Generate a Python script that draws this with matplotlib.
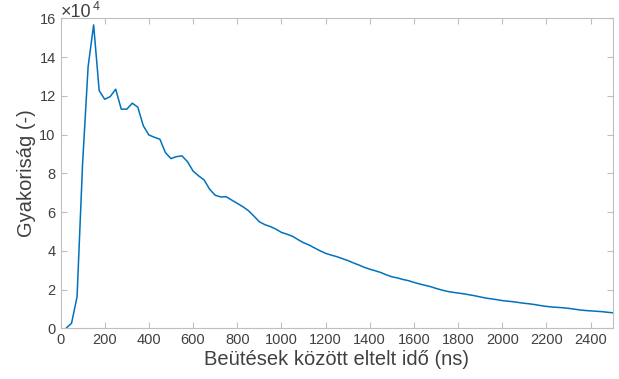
import matplotlib
matplotlib.use("Agg")
import matplotlib.pyplot as plt

x_ns = [25, 50, 75, 100, 125, 150, 175, 200, 225, 250, 275, 300, 325, 350, 375, 400,
        425, 450, 475, 500, 525, 550, 575, 600, 625, 650, 675, 700, 725, 750, 775, 800,
        825, 850, 875, 900, 925, 950, 975, 1000, 1025, 1050, 1075, 1100, 1125, 1150,
        1175, 1200, 1225, 1250, 1275, 1300, 1325, 1350, 1375, 1400, 1425, 1450, 1475,
        1500, 1525, 1550, 1575, 1600, 1625, 1650, 1675, 1700, 1725, 1750, 1775, 1800,
        1825, 1850, 1875, 1900, 1925, 1950, 1975, 2000, 2025, 2050, 2075, 2100, 2125,
        2150, 2175, 2200, 2225, 2250, 2275, 2300, 2325, 2350, 2375, 2400, 2425, 2450,
        2475, 2500]
freq_e4 = [0.0, 0.26, 1.63, 8.5, 13.5, 15.66, 12.27, 11.82, 11.96, 12.34, 11.31, 11.31,
           11.62, 11.41, 10.45, 9.98, 9.86, 9.76, 9.07, 8.76, 8.86, 8.9, 8.6, 8.12, 7.87,
           7.66, 7.18, 6.87, 6.78, 6.79, 6.62, 6.45, 6.28, 6.08, 5.8, 5.5, 5.35, 5.25,
           5.12, 4.95, 4.86, 4.75, 4.58, 4.42, 4.3, 4.15, 4.0, 3.87, 3.78, 3.70, 3.6, 3.5,
           3.38, 3.27, 3.15, 3.05, 2.97, 2.88, 2.76, 2.66, 2.6, 2.52, 2.46, 2.37, 2.29,
           2.22, 2.15, 2.06, 1.98, 1.91, 1.86, 1.82, 1.78, 1.73, 1.68, 1.62, 1.56, 1.52,
           1.48, 1.43, 1.40, 1.37, 1.33, 1.29, 1.26, 1.22, 1.17, 1.13, 1.10, 1.08, 1.06,
           1.03, 0.99, 0.95, 0.92, 0.90, 0.88, 0.86, 0.83, 0.80]

x_ticks = list(range(0, 2401, 200))
y_ticks = list(range(0, 17, 2))

plt.rcParams['font.family'] = ['Liberation Sans', 'DejaVu Sans']

W, H = 619, 379
fig = plt.figure(figsize=(W / 100, H / 100), dpi=100)
ax = fig.add_axes([60.5 / W, 1 - 328.3 / H, (612.7 - 60.5) / W, (328.3 - 18.3) / H])

ax.plot(x_ns, freq_e4, color=(0, 0.447, 0.741), linewidth=1.1)

ax.set_xlim(0, 2500)
ax.set_ylim(0, 16)
ax.set_xticks(x_ticks)
ax.set_yticks(y_ticks)
ax.set_xticklabels([str(t) for t in x_ticks])
ax.set_yticklabels([str(t) for t in y_ticks])

tick_col = (0.25, 0.25, 0.25)
spine_col = (0.75, 0.75, 0.75)
for s in ax.spines.values():
    s.set_color(spine_col)
    s.set_linewidth(0.8)
ax.tick_params(direction='in', length=4, width=0.8, color=spine_col,
               labelcolor=tick_col, labelsize=10.5, top=True, right=True, pad=3.5)

ax.set_xlabel('Beütések között eltelt idő (ns)', fontsize=14.5, color=tick_col, labelpad=2)
ax.set_ylabel('Gyakoriság (-)', fontsize=14.5, color=tick_col, labelpad=2)

fig.text(61 / W, 1 - 17 / H, '×10', fontsize=13, color=tick_col,
         ha='left', va='baseline')
fig.text(92.5 / W, 1 - 10 / H, '4', fontsize=9, color=tick_col,
         ha='left', va='baseline')

fig.savefig('out.png', dpi=100)
